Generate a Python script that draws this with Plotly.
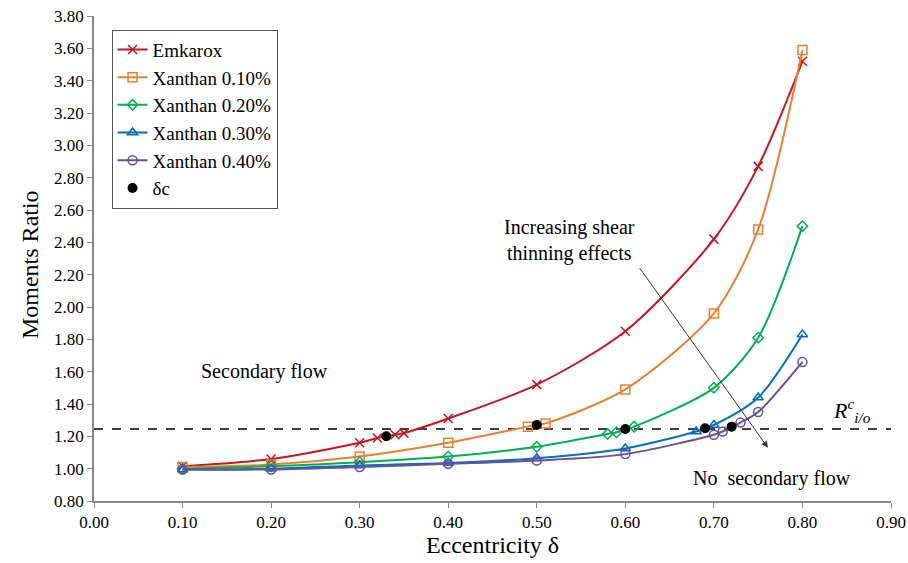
import plotly.graph_objects as go

# data
emk_x = [0.10, 0.20, 0.30, 0.32, 0.34, 0.35, 0.40, 0.50, 0.60, 0.70, 0.75, 0.80]
emk_y = [1.015, 1.06, 1.16, 1.19, 1.21, 1.22, 1.31, 1.52, 1.85, 2.42, 2.87, 3.52]

x10_x = [0.10, 0.20, 0.30, 0.40, 0.49, 0.51, 0.60, 0.70, 0.75, 0.80]
x10_y = [1.01, 1.025, 1.075, 1.16, 1.26, 1.28, 1.49, 1.96, 2.48, 3.59]

x20_x = [0.10, 0.20, 0.30, 0.40, 0.50, 0.58, 0.59, 0.61, 0.70, 0.75, 0.80]
x20_y = [1.00, 1.015, 1.04, 1.075, 1.135, 1.215, 1.225, 1.26, 1.50, 1.81, 2.50]

x30_x = [0.10, 0.20, 0.30, 0.40, 0.50, 0.60, 0.68, 0.70, 0.75, 0.80]
x30_y = [0.995, 1.00, 1.02, 1.035, 1.065, 1.125, 1.23, 1.27, 1.44, 1.83]

x40_x = [0.10, 0.20, 0.30, 0.40, 0.50, 0.60, 0.70, 0.71, 0.73, 0.75, 0.80]
x40_y = [0.995, 0.995, 1.01, 1.03, 1.05, 1.09, 1.21, 1.23, 1.285, 1.35, 1.66]

dc_x = [0.33, 0.50, 0.60, 0.69, 0.72]
dc_y = [1.20, 1.27, 1.245, 1.25, 1.26]

R_c = 1.245

serif = "Liberation Serif"

series = [
    ("Emkarox", emk_x, emk_y, "#C8151E", "x-thin-open", 9),
    ("Xanthan 0.10%", x10_x, x10_y, "#ED7D31", "square-open", 9),
    ("Xanthan 0.20%", x20_x, x20_y, "#00B050", "diamond-open", 8),
    ("Xanthan 0.30%", x30_x, x30_y, "#0070C0", "triangle-up-open", 9),
    ("Xanthan 0.40%", x40_x, x40_y, "#68509A", "circle-open", 9),
]

fig = go.Figure()

# critical ratio line
fig.add_trace(go.Scatter(
    x=[0, 0.9], y=[R_c, R_c], mode="lines", showlegend=False,
    line=dict(color="black", width=1.5, dash="dash"),
))

for name, xs, ys, col, sym, sz in series:
    fig.add_trace(go.Scatter(
        x=xs, y=ys, name=name, mode="lines+markers",
        line=dict(color=col, width=2, shape="spline", smoothing=0.8),
        marker=dict(symbol=sym, size=sz, color=col, line=dict(color=col, width=1.5)),
    ))

fig.add_trace(go.Scatter(
    x=dc_x, y=dc_y, name="δc", mode="markers",
    marker=dict(symbol="circle", size=10, color="black"),
))

fig.update_layout(
    width=908, height=563,
    margin=dict(l=94, r=17, t=16, b=62),
    plot_bgcolor="white", paper_bgcolor="white",
    font=dict(family=serif, size=17, color="black"),
    showlegend=True,
    legend=dict(
        x=0.022, y=0.972, xanchor="left", yanchor="top",
        bordercolor="#555555", borderwidth=1,
        font=dict(family=serif, size=19),
        tracegroupgap=0, itemwidth=30,
    ),
)

fig.update_xaxes(
    range=[0, 0.9], dtick=0.1, tickformat=".2f", automargin=False,
    ticklabeloverflow="allow",
    showgrid=False, zeroline=False,
    showline=True, linecolor="#888888", linewidth=1.5,
    ticks="outside", ticklen=5, tickcolor="#888888",
    title=dict(text="Eccentricity δ", font=dict(family=serif, size=24), standoff=4),
)
fig.update_yaxes(
    range=[0.8, 3.8], dtick=0.2, tickformat=".2f", automargin=False,
    ticklabeloverflow="allow",
    showgrid=False, zeroline=False,
    showline=True, linecolor="#888888", linewidth=1.5,
    ticks="outside", ticklen=5, tickcolor="#888888",
)

# y title placed by hand to sit further left, like the reference
fig.add_annotation(x=-0.080, y=0.487, xref="paper", yref="paper", text="Moments Ratio",
                   xanchor="center", yanchor="middle",
                   textangle=-90, showarrow=False, font=dict(family=serif, size=24))

fig.add_annotation(x=0.193, y=1.60, text="Secondary flow", showarrow=False,
                   font=dict(family=serif, size=20))
fig.add_annotation(x=0.537, y=2.41, text="Increasing shear<br>thinning effects", showarrow=False,
                   font=dict(family=serif, size=20))
fig.add_annotation(x=0.766, y=0.94, text="No  secondary flow", showarrow=False,
                   font=dict(family=serif, size=20))
fig.add_annotation(x=0.856, y=1.36, text="<i>R</i><sup><i>c</i></sup><sub><i>i/o</i></sub>",
                   showarrow=False, font=dict(family=serif, size=22))
fig.add_annotation(x=0.761, y=1.13, ax=0.615, ay=2.25, xref="x", yref="y",
                   axref="x", ayref="y", text="", showarrow=True,
                   arrowhead=2, arrowsize=1.3, arrowwidth=1, arrowcolor="#333333")

# drop the page's default body margin so the figure fills the window exactly
fig.write_html("out.html", config={"displayModeBar": False},
               post_script="document.body.style.margin='0';")
